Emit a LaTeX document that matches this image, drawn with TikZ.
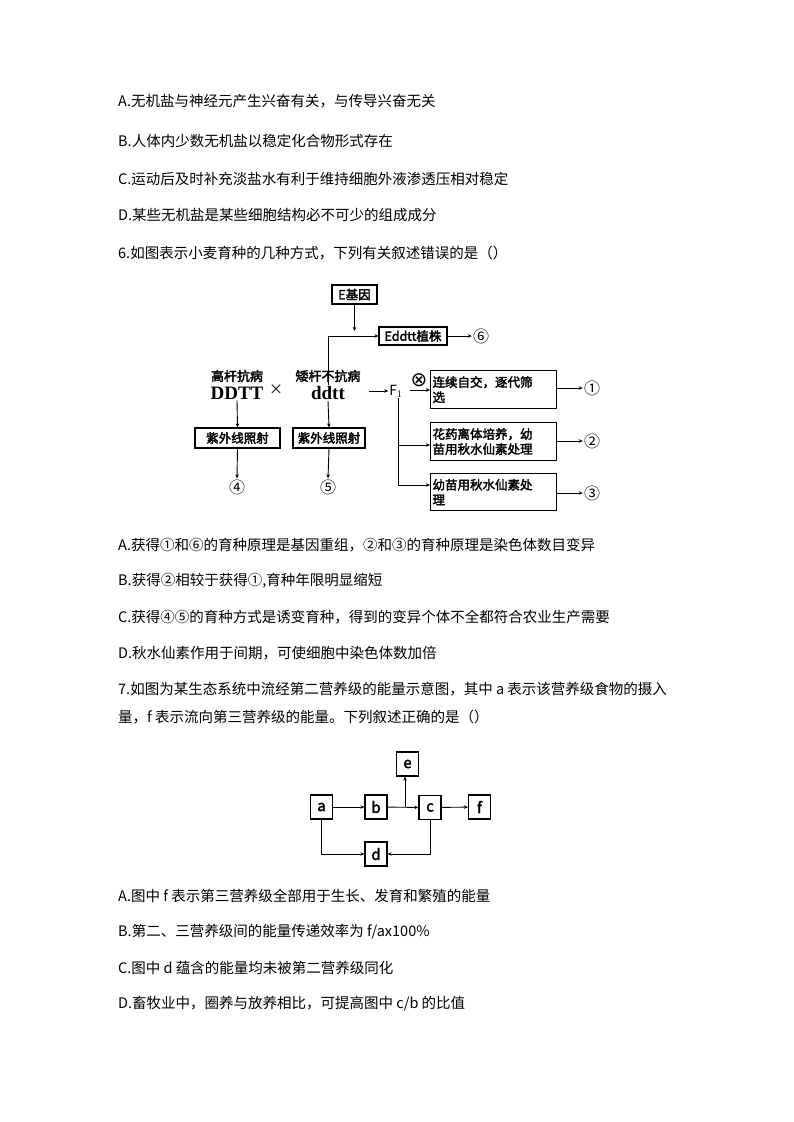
\documentclass[tikz,border=0pt]{standalone}
\usepackage{fontspec}
\setmainfont{Noto Sans CJK SC}[AutoFakeBold=2.5]
\newfontfamily\serifb{Liberation Serif}
\newfontfamily\dejavu{DejaVu Sans}
\usetikzlibrary{arrows.meta}
\begin{document}
\begin{tikzpicture}[x=1pt,y=-1pt,
  txt/.style={anchor=west,inner sep=0pt,font=\fontsize{14.5}{16}\selectfont},
  bx/.style={draw,line width=1.1pt,inner sep=2pt,font=\bfseries\fontsize{12.5}{15}\selectfont},
  wbx/.style={bx,anchor=north west,text width=122pt,minimum height=#1,align=left},
  lb/.style={inner sep=1pt,font=\bfseries\fontsize{13}{13}\selectfont},
  cn/.style={inner sep=1pt,font=\fontsize{16}{16}\selectfont},
  ar/.style={-{Stealth[length=4pt,width=3.5pt]},line width=0.9pt},
  ln/.style={line width=0.9pt},
  sq/.style={draw,line width=1.1pt,minimum width=22pt,minimum height=24pt,inner sep=0pt,font=\bfseries\fontsize{15}{15}\selectfont}]
\useasboundingbox[fill=white] (0,0) rectangle (794,1122);
\node[txt] (t1) at (118,101) {A.无机盐与神经元产生兴奋有关，与传导兴奋无关};
\node[txt] (t2) at (118,141) {B.人体内少数无机盐以稳定化合物形式存在};
\node[txt] (t3) at (118,179) {C.运动后及时补充淡盐水有利于维持细胞外液渗透压相对稳定};
\node[txt] (t4) at (118,215) {D.某些无机盐是某些细胞结构必不可少的组成成分};
\node[txt] (t5) at (118,253) {6.如图表示小麦育种的几种方式，下列有关叙述错误的是（）};
% diagram 1
\node[bx,minimum width=45pt,minimum height=19pt,inner sep=1pt] (E) at (354.5,294.5) {E基因};
\node[bx,minimum width=68pt,minimum height=18pt,inner sep=1pt] (Ed) at (413,336) {Eddtt植株};
\node[cn] (n6) at (481,336) {⑥};
\node[lb] (g1) at (237,376) {高杆抗病};
\node[inner sep=1pt,font=\serifb\bfseries\fontsize{19}{19}\selectfont] (DD) at (237,393) {DDTT};
\node[inner sep=1pt,font=\fontsize{14}{14}\selectfont] (x) at (276,390) {×};
\node[lb] (g2) at (328,376) {矮杆不抗病};
\node[inner sep=1pt,font=\serifb\bfseries\fontsize{19}{19}\selectfont] (dd) at (328,393) {ddtt};
\node[inner sep=1pt,font=\fontsize{14}{14}\selectfont] (F1) at (396,391) {F$_1$};
\node[inner sep=0pt,font=\dejavu\fontsize{20}{20}\selectfont] (ox) at (419,380) {⊗};
\node[wbx=38pt] (b1) at (430,370) {连续自交，逐代筛\\选};
\node[wbx=38pt] (b2) at (430,422) {花药离体培养，幼\\苗用秋水仙素处理};
\node[wbx=37pt] (b3) at (430,473) {幼苗用秋水仙素处\\理};
\node[cn] (n1) at (592,388) {①};
\node[cn] (n2) at (592,441) {②};
\node[cn] (n3) at (592,493) {③};
\node[bx,minimum width=85pt,minimum height=20pt,inner sep=1pt] (u1) at (237.5,438) {紫外线照射};
\node[bx,minimum width=72pt,minimum height=20pt,inner sep=1pt] (u2) at (329,438) {紫外线照射};
\node[cn] (n4) at (237,487) {④};
\node[cn] (n5) at (328,487) {⑤};
\coordinate (j1) at (354.5,331);
\draw[ar] (E) -- (j1);
\draw[ar] (dd.north -| 328,367) -- (328,336) -- (Ed.west);
\draw[ar] (Ed.east) -- (n6.west);
\draw[ar] (369,391) -- (F1.west);
\draw[ar] (410,390) -- (b1.west |- 0,390);
\draw[ar] (b1.east |- n1) -- (n1.west);
\draw[ar] (b2.east |- n2) -- (n2.west);
\draw[ar] (b3.east |- n3) -- (n3.west);
\coordinate (fb) at (398,398);
\draw[ln] (fb) -- (398,485);
\draw[ar] (398,445) -- (b2.west |- 0,445);
\draw[ar] (398,485) -- (b3.west |- 0,485);
\draw[ar] (DD.south) -- (u1.north);
\draw[ar] (dd.south) -- (u2.north);
\draw[ar] (u1.south) -- (n4.north);
\draw[ar] (u2.south) -- (n5.north);
% texts 2
\node[txt] (s1) at (118,545) {A.获得①和⑥的育种原理是基因重组，②和③的育种原理是染色体数目变异};
\node[txt] (s2) at (118,581) {B.获得②相较于获得①,育种年限明显缩短};
\node[txt] (s3) at (118,617) {C.获得④⑤的育种方式是诱变育种，得到的变异个体不全都符合农业生产需要};
\node[txt] (s4) at (118,653) {D.秋水仙素作用于间期，可使细胞中染色体数加倍};
\node[txt] (s5) at (118,689) {7.如图为某生态系统中流经第二营养级的能量示意图，其中 a 表示该营养级食物的摄入};
\node[txt] (s6) at (118,717) {量，f 表示流向第三营养级的能量。下列叙述正确的是（）};
% diagram 2
\node[sq] (e) at (407.5,764) {e};
\node[sq] (a) at (321.5,807) {a};
\node[sq] (b) at (376,807) {b};
\node[sq] (c) at (430,807.5) {c};
\node[sq] (f) at (479.5,807) {f};
\node[sq] (d) at (376,854) {d};
\coordinate (jb) at (405,807);
\draw[ar] (a) -- (b);
\draw[ar] (b) -- (c);
\draw[ar] (jb) -- (jb |- e.south);
\draw[ar] (c) -- (f);
\draw[ar] (a.south) |- (d.west);
\draw[ar] (c.south) |- (d.east);
% texts 3
\node[txt] (r1) at (118,896) {A.图中 f 表示第三营养级全部用于生长、发育和繁殖的能量};
\node[txt] (r2) at (118,932) {B.第二、三营养级间的能量传递效率为 f/ax100\%};
\node[txt] (r3) at (118,968) {C.图中 d 蕴含的能量均未被第二营养级同化};
\node[txt] (r4) at (118,1004) {D.畜牧业中，圈养与放养相比，可提高图中 c/b 的比值};
\end{tikzpicture}
\end{document}
